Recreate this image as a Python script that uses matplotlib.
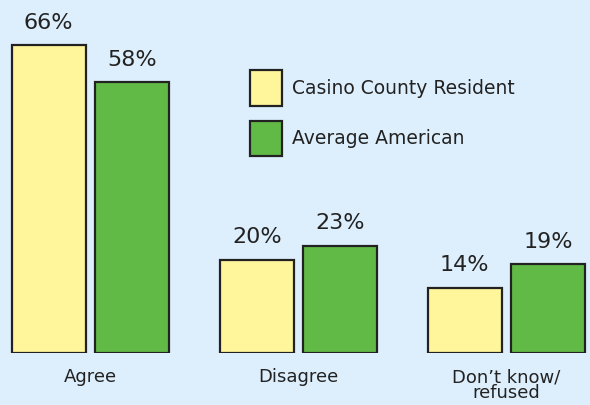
import matplotlib.pyplot as plt
import numpy as np

categories = ['Agree', 'Disagree', 'Don\u2019t know/\nrefused']
casino = [66, 20, 14]
american = [58, 23, 19]
series_names = ['Casino County Resident', 'Average American']

bg = '#ddeffc'
fig = plt.figure(figsize=(5.9, 4.05), dpi=100, facecolor=bg)
ax = fig.add_axes([0, 1 - 353 / 405, 1, 353 / 405])
ax.set_facecolor(bg)

x = np.arange(len(categories))
w = 0.356
off = 0.2
b1 = ax.bar(x - off, casino, w, color='#fff59a', edgecolor='#222222', linewidth=1.6, label=series_names[0])
b2 = ax.bar(x + off, american, w, color='#62ba46', edgecolor='#222222', linewidth=1.6, label=series_names[1])

for bars, vals in [(b1, casino), (b2, american)]:
    for r, v in zip(bars, vals):
        ax.text(r.get_x() + r.get_width() / 2, v + 2.6, f'{v}%', ha='center', va='bottom',
                fontsize=16, color='#222222')

ax.set_xlim(-0.434, 2.402)
ax.set_ylim(0, 353 / 4.67)
ax.set_xticks(x)
ax.set_xticklabels(categories, fontsize=13, color='#222222', linespacing=0.85)
ax.tick_params(axis='x', length=0, pad=11)
ax.set_yticks([])
for s in ax.spines.values():
    s.set_visible(False)

ax.legend(loc='upper left', bbox_to_anchor=(250 / 590, (353 - 70) / 353), frameon=False,
          fontsize=13.5, handlelength=1.7, handleheight=2.55, labelspacing=0.8,
          handletextpad=0.55, borderpad=0, borderaxespad=0, labelcolor='#222222')

fig.savefig('out.png', dpi=100, facecolor=bg)
